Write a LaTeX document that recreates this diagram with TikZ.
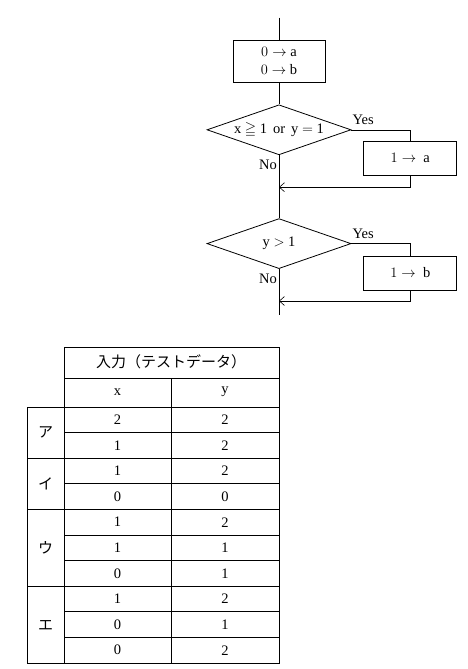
\documentclass[tikz,border=0pt]{standalone}
\usepackage{fontspec}
\usepackage{amssymb}
\setmainfont{Liberation Serif}
\newfontfamily\jpfont{Noto Sans CJK JP}
\usetikzlibrary{arrows.meta,positioning,shapes.geometric}
\tikzset{
  >={Straight Barb[length=5pt,width=9pt]},
  flow/.style={draw,line width=0.6pt},
  procbox/.style={draw,line width=0.8pt,align=center,inner sep=0pt,
    font=\fontsize{14.5}{18}\selectfont},
  decision/.style={diamond,draw,line width=0.8pt,inner sep=0pt,aspect=2.9,
    minimum width=144pt,minimum height=50pt,font=\fontsize{14.5}{16}\selectfont},
  lbl/.style={inner sep=1pt,font=\fontsize{14.5}{16}\selectfont},
  cell/.style={inner sep=0pt,font=\fontsize{14.5}{16}\selectfont},
  jpcell/.style={cell,font=\fontsize{15}{16}\selectfont\jpfont},
  grid/.style={line width=0.8pt}
}

\begin{document}
\begin{tikzpicture}[x=1pt,y=-1pt]
  \useasboundingbox (0,0) rectangle (468,669);

  % flowchart
  \node[procbox,minimum width=92pt,minimum height=42pt] (init) at (279,61) {$0\rightarrow$ a\\$0\rightarrow$ b};
  \coordinate[above=22pt of init.north] (start);
  \node[decision,below=22pt of init] (dec1) {x $\geqq$ 1\ \,or\ \,y $=$ 1};
  \node[procbox,minimum width=93pt,minimum height=34pt,below right=11pt and 12pt of dec1.east] (seta) {$1\rightarrow$\ \ a};
  \coordinate[below=32pt of dec1.south] (join1);
  \node[decision,below=63pt of dec1] (dec2) {y $>$ 1};
  \node[procbox,minimum width=93pt,minimum height=34pt,below right=12pt and 12pt of dec2.east] (setb) {$1\rightarrow$\ \ b};
  \coordinate[below=32pt of dec2.south] (join2);
  \coordinate[below=46pt of dec2.south] (end);

  \draw[flow] (start) -- (init) -- (dec1) -- (dec2) -- (end);
  \draw[flow] (dec1.east) -| (seta.north);
  \draw[flow,->] (seta.south) |- (join1);
  \draw[flow] (dec2.east) -| (setb.north);
  \draw[flow,->] (setb.south) |- (join2);

  \node[lbl,above right=4pt and 0pt of dec1.east] (yes1) {Yes};
  \node[lbl,below left=4pt and 1pt of dec1.south] (no1) {No};
  \node[lbl,above right=4pt and 0pt of dec2.east] (yes2) {Yes};
  \node[lbl,below left=4pt and 1pt of dec2.south] (no2) {No};

  % table
  \draw[grid] (64,347) -- (279,347) -- (279,663) -- (27,663) -- (27,407) -- (64,407) -- cycle;
  \draw[grid] (64,378) -- (279,378);
  \draw[grid] (27,407) -- (279,407);
  \draw[grid] (64,407) -- (64,663);
  \draw[grid] (171,378) -- (171,663);
  \foreach \r in {1,3,5,6,8,9}
    \draw[grid] (64,{407+25.6*\r}) -- (279,{407+25.6*\r});
  \foreach \r in {2,4,7}
    \draw[grid] (27,{407+25.6*\r}) -- (279,{407+25.6*\r});

  \node[jpcell] (head) at (171,362) {入力（テストデータ）};
  \node[cell] (colx) at (117.5,392) {x};
  \node[cell] (coly) at (225,392) {y};
  \foreach \lab/\cy/\nm in {ア/432.5/grpA,イ/483.5/grpI,ウ/548/grpU,エ/625/grpE}
    \node[jpcell] (\nm) at (45.5,\cy) {\lab};
  \foreach \xv/\yv [count=\i from 0] in {2/2,1/2,1/2,0/0,1/2,1/1,0/1,1/2,0/1,0/2}{
    \node[cell] (x\i) at (117.5,{419.8+25.6*\i}) {\xv};
    \node[cell] (y\i) at (225,{419.8+25.6*\i}) {\yv};
  }
\end{tikzpicture}
\end{document}
